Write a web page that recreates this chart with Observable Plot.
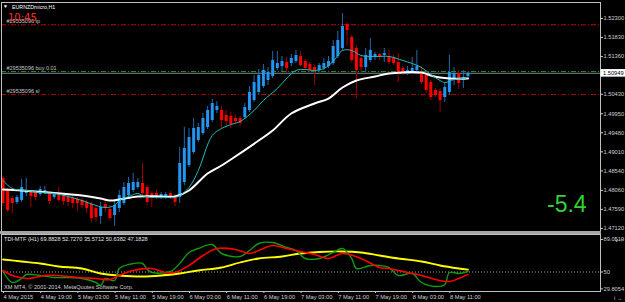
<!DOCTYPE html>
<html><head><meta charset="utf-8">
<script src="https://cdn.jsdelivr.net/npm/d3@7"></script>
<script src="https://cdn.jsdelivr.net/npm/@observablehq/plot@0.6"></script>
<style>
body{margin:0;background:#000;}
#c{position:relative;width:625px;height:302px;background:#000;overflow:hidden;font-family:"Liberation Sans",Arial,sans-serif;}
#c > *{position:absolute;left:0;}
</style></head><body><div id="c"></div>
<script>
// ---- data: EURNZDmicro H1, 4 May 11:00 .. 8 May 15:00 (one bar per hour) ----
const open=[1.48353,1.48057,1.47859,1.47761,1.47810,1.47983,1.48007,1.47983,1.47958,1.48032,
1.47983,1.47884,1.47933,1.47933,1.47884,1.47859,1.47835,1.47810,1.47761,1.47711,
1.47613,1.47415,1.47711,1.47588,1.47440,1.47613,1.47736,1.47933,1.48057,1.48131,
1.48230,1.48131,1.47983,1.47983,1.47884,1.47884,1.47983,1.47909,1.47884,1.48254,
1.48673,1.48994,1.49290,1.49463,1.49611,1.49784,1.50030,1.50030,1.49907,1.49882,
1.49833,1.49833,1.49858,1.50030,1.50277,1.50474,1.50622,1.50770,1.50869,1.51066,
1.51116,1.51215,1.51190,1.51239,1.51363,1.51239,1.51165,1.51091,1.51017,1.51066,
1.51116,1.51190,1.51363,1.51560,1.52152,1.51831,1.51560,1.51313,1.51091,1.51264,
1.51338,1.51412,1.51387,1.51363,1.51338,1.51215,1.51066,1.50968,1.50968,1.51017,
1.50968,1.50894,1.50721,1.50524,1.50499,1.50351,1.50474,1.50770,1.50943,1.50770,
1.50869];
const high=[1.48402,1.48106,1.47909,1.47933,1.48328,1.48353,1.48057,1.48032,1.48155,1.48155,
1.48007,1.48007,1.48131,1.47983,1.47933,1.47909,1.47884,1.47859,1.47810,1.47761,
1.47662,1.47761,1.47835,1.47687,1.47810,1.48057,1.48254,1.48377,1.48476,1.48353,
1.48723,1.48180,1.48032,1.48057,1.48007,1.48007,1.48032,1.47958,1.49117,1.49611,
1.49586,1.49833,1.49710,1.49956,1.50129,1.50302,1.50252,1.50129,1.50030,1.49981,
1.49907,1.49882,1.50203,1.50622,1.50894,1.51042,1.51165,1.51091,1.51486,1.51486,
1.51363,1.51338,1.51412,1.51511,1.51486,1.51289,1.51215,1.51141,1.51190,1.51313,
1.51363,1.51757,1.51979,1.52423,1.52201,1.51881,1.51634,1.51387,1.51560,1.51807,
1.51461,1.51437,1.51560,1.51511,1.51387,1.51437,1.51116,1.51116,1.51338,1.51511,
1.51116,1.50968,1.50770,1.50573,1.50573,1.50696,1.51387,1.51091,1.51017,1.51017,
1.50968];
const low=[1.47662,1.47514,1.47489,1.47711,1.47761,1.47909,1.47637,1.47810,1.47909,1.47958,
1.47711,1.47835,1.47761,1.47687,1.47662,1.47613,1.47538,1.47613,1.47489,1.47267,
1.47267,1.47218,1.47514,1.47317,1.47169,1.47514,1.47687,1.47884,1.48007,1.48081,
1.47884,1.47687,1.47637,1.47835,1.47835,1.47835,1.47835,1.47662,1.47736,1.48180,
1.48624,1.48945,1.49241,1.49414,1.49562,1.49734,1.49956,1.49586,1.49611,1.49586,
1.49685,1.49636,1.49808,1.49981,1.50228,1.50400,1.50573,1.50647,1.50820,1.51017,
1.50992,1.50968,1.51116,1.51190,1.51091,1.51017,1.50943,1.50647,1.50968,1.51017,
1.51066,1.51141,1.51313,1.51511,1.51609,1.51215,1.50326,1.50968,1.50968,1.51215,
1.51264,1.51264,1.51215,1.51165,1.51141,1.50721,1.50894,1.50894,1.50918,1.50968,
1.50672,1.50450,1.50277,1.50351,1.49981,1.50228,1.50400,1.50647,1.50548,1.50573,
1.50844];
const close=[1.47736,1.47563,1.47736,1.47884,1.48131,1.48057,1.47909,1.47884,1.48081,1.48057,
1.47785,1.47958,1.47810,1.47785,1.47761,1.47736,1.47736,1.47687,1.47613,1.47366,
1.47390,1.47637,1.47613,1.47366,1.47687,1.47933,1.48131,1.48230,1.48254,1.48254,
1.47983,1.47761,1.47859,1.47884,1.47958,1.47958,1.47884,1.47761,1.48723,1.49093,
1.49364,1.49586,1.49611,1.49833,1.50030,1.50203,1.50129,1.49784,1.49759,1.49685,
1.49759,1.49710,1.50104,1.50474,1.50721,1.50894,1.51017,1.50968,1.51264,1.51190,
1.51239,1.51066,1.51313,1.51387,1.51141,1.51066,1.51017,1.50992,1.51141,1.51190,
1.51239,1.51609,1.51757,1.52103,1.52004,1.51264,1.51017,1.51091,1.51387,1.51511,
1.51412,1.51338,1.51437,1.51215,1.51190,1.50943,1.50943,1.51017,1.51066,1.51116,
1.50721,1.50524,1.50351,1.50400,1.50277,1.50598,1.50968,1.50943,1.50696,1.50844,
1.50949];

// moving averages (bar index, price)
const fastMaIdx=[0,2,5,8,11,14,17,20,22,24,25,27,29,30,32,35,37,38,40,42,45,47,49,51,54,56,59,61,63,65,67,69,71,73,75,77,80,83,86,88,90,92,94,95,97,99,100];
const fastMaVal=[1.48303,1.48106,1.48057,1.48007,1.47983,1.47909,1.47810,1.47687,1.47637,1.47687,1.47810,1.47909,1.47983,1.47933,1.47884,1.47884,1.47884,1.47933,1.48131,1.48550,1.49414,1.49586,1.49685,1.49759,1.50030,1.50277,1.50573,1.50820,1.51017,1.51042,1.51017,1.51066,1.51239,1.51511,1.51511,1.51387,1.51363,1.51363,1.51264,1.51190,1.51091,1.50918,1.50770,1.50721,1.50795,1.50820,1.50844];
const slowMaIdx=[0,4,10,17,21,23,25,29,34,37,40,44,47,49,55,58,62,67,70,73,76,80,83,90,92,94,96,100];
const slowMaVal=[1.48081,1.48057,1.48007,1.47933,1.47859,1.47810,1.47835,1.47909,1.47909,1.47909,1.48057,1.48476,1.48673,1.48822,1.49290,1.49537,1.49956,1.50203,1.50326,1.50598,1.50770,1.50869,1.50943,1.50968,1.50894,1.50844,1.50820,1.50820];

// order levels
const tpLevel=1.52145, buyLevel=1.50992, slLevel=1.50425, bid=1.50949;
const orderLevels=[tpLevel,buyLevel,slLevel];
const orderTexts=["#29535096 tp","#29535096 buy 0.01","#29535096 sl"];

// price axis
const priceTicks=[1.52300,1.51830,1.51360,1.50430,1.49950,1.49480,1.49010,1.48540,1.48060,1.47590,1.47120];

// TDI-MTF indicator (bar index, value)
const yellowIdx=[0,4,8,12,17,21,25,30,34,38,42,47,51,55,60,64,68,73,77,81,85,90,94,98,100];
const yellowVal=[65.0,62.6,60.2,56.6,54.2,48.2,45.8,44.6,45.8,48.2,51.8,55.4,61.4,66.2,68.6,72.2,74.0,74.6,73.4,69.8,66.2,62.6,57.8,54.2,52.727];
const redIdx=[0,2,5,9,12,16,20,23,25,28,32,35,37,40,43,46,50,53,55,58,61,64,67,70,73,77,81,83,87,90,93,96,98,100];
const redVal=[51.8,45.8,42.2,45.8,45.8,43.4,42.2,41.0,45.8,51.8,54.2,49.4,49.4,57.8,69.8,78.2,77.0,72.2,75.8,81.8,78.2,74.5,71.0,66.2,72.2,66.2,55.4,54.2,49.4,45.8,41.0,38.6,42.2,47.1828];
const greenIdx=[0,2,4,5,8,11,14,17,20,21,22,24,25,27,30,31,32,36,38,40,42,45,47,51,53,55,58,61,63,65,68,71,73,75,76,79,81,83,85,88,90,93,95,96,98,100];
const greenVal=[50.6,37.4,42.2,47.0,45.8,43.4,43.4,42.2,37.4,33.8,42.2,39.8,54.2,59.0,60.2,53.0,49.4,50.6,60.2,73.4,78.2,83.0,72.2,68.6,75.8,84.2,85.4,79.4,75.8,66.2,66.2,73.4,78.2,66.2,54.2,57.8,57.8,55.4,45.8,48.2,37.4,32.6,35.0,49.4,48.2,50.6382];
const tdiTicks=[29.8054,50,89.0519];
const tdiTickLabels=["29.8054","50","89.0519"];
const tdiTitle="TDI-MTF (H1) 69.8828 52.7270 35.5712 50.6382 47.1828";

// time axis
const timeTickIdx=[0,8,16,24,32,40,48,56,64,72,80,88,96];
const timeLabels=["4 May 2015","4 May 19:00","5 May 03:00","5 May 11:00","5 May 19:00","6 May 03:00","6 May 11:00","6 May 19:00","7 May 03:00","7 May 11:00","7 May 19:00","8 May 03:00","8 May 11:00"];

// ---- build ----
const FONT="Liberation Sans";
const bars=open.map((o,i)=>({i,o,h:high[i],l:low[i],c:close[i],up:close[i]>=o}));
const pts=(idx,val)=>idx.map((i,k)=>({i,v:val[k]}));
const xDomain=[-0.3226,128.4946];

const main=Plot.plot({
  width:625,height:231,marginLeft:1,marginRight:25,marginTop:2,marginBottom:0,
  x:{domain:xDomain,axis:null},
  y:{domain:[1.47045,1.52695],axis:null},
  color:{type:"identity"},
  style:{background:"transparent",fontFamily:FONT,fontSize:"5.7px",color:"#d0d0d0",overflow:"visible"},
  marks:[
    Plot.ruleY([bid],{stroke:"#7d8a97",strokeWidth:1}),
    Plot.ruleY([tpLevel],{stroke:"#c00000",strokeDasharray:"5,2,1,2"}),
    Plot.ruleY([buyLevel],{stroke:"#1f8f1f",strokeDasharray:"5,2,1,2"}),
    Plot.ruleY([slLevel],{stroke:"#a80000",strokeDasharray:"5,2,1,2"}),
    Plot.ruleX(bars,{x:"i",y1:"l",y2:"h",stroke:d=>d.up?"#2468aa":"#a00000",strokeWidth:1}),
    Plot.ruleX(bars,{x:"i",y1:"o",y2:"c",stroke:d=>d.up?"#2196f3":"#ff0000",strokeWidth:3}),
    Plot.line(pts(slowMaIdx,slowMaVal),{x:"i",y:"v",stroke:"#ffffff",strokeWidth:2,curve:"catmull-rom",clip:true}),
    Plot.line(pts(fastMaIdx,fastMaVal),{x:"i",y:"v",stroke:"#22bcbc",strokeWidth:1,curve:"catmull-rom",clip:true}),
    Plot.text(orderLevels,{y:d=>d,text:(d,i)=>orderTexts[i],frameAnchor:"left",dx:5,dy:-1.5,lineAnchor:"bottom",textAnchor:"start",fill:"#c8c8c8",fontSize:5.5}),
    Plot.axisY(priceTicks,{anchor:"right",tickSize:2,tickPadding:1,fontSize:5.7,tickFormat:d=>d.toFixed(5),color:"#d0d0d0"}),
    Plot.frame({stroke:"#c0c0c0"})
  ]
});

const ind=Plot.plot({
  width:625,height:68,marginLeft:1,marginRight:25,marginTop:0,marginBottom:11,
  x:{domain:xDomain,axis:null},
  y:{domain:[26.6,95],axis:null},
  style:{background:"transparent",fontFamily:FONT,fontSize:"5.7px",color:"#d0d0d0",overflow:"visible"},
  marks:[
    Plot.ruleY([50],{stroke:"#a0a0a0",strokeDasharray:"1,2"}),
    Plot.line(pts(yellowIdx,yellowVal),{x:"i",y:"v",stroke:"#ffff00",strokeWidth:1.8,curve:"catmull-rom",clip:true}),
    Plot.line(pts(greenIdx,greenVal),{x:"i",y:"v",stroke:"#129a12",strokeWidth:1.4,curve:"catmull-rom",clip:true}),
    Plot.line(pts(redIdx,redVal),{x:"i",y:"v",stroke:"#ff0000",strokeWidth:1.6,curve:"catmull-rom",clip:true}),
    Plot.axisY(tdiTicks,{anchor:"right",tickSize:2,tickPadding:1,fontSize:5.7,tickFormat:d=>tdiTickLabels[tdiTicks.indexOf(d)],color:"#d0d0d0"}),
    Plot.axisX(timeTickIdx,{anchor:"bottom",tickSize:2,tickPadding:1,fontSize:5.7,textAnchor:"start",dx:0.5,tickFormat:d=>timeLabels[timeTickIdx.indexOf(d)],color:"#d0d0d0"}),
    Plot.frame({stroke:"#c0c0c0"})
  ]
});

const c=document.getElementById("c");
main.style.top="0px";
c.appendChild(main);
const sep=document.createElement("div");
sep.style.cssText="top:231px;width:601px;height:3px;background:#a4a4a4;";
c.appendChild(sep);
ind.style.top="234px";
c.appendChild(ind);

// overlay texts
const ov=d3.create("svg").attr("width",625).attr("height",302).style("top","0px").style("pointer-events","none")
  .attr("font-family",FONT);
ov.append("text").attr("x",3).attr("y",8).attr("font-size",5).attr("fill","#ffffff").text("▼");
ov.append("text").attr("x",12).attr("y",8.5).attr("font-size",5.3).attr("fill","#ffffff").text("EURNZDmicro,H1");
ov.append("text").attr("x",8).attr("y",21).attr("font-size",10).attr("font-family","DejaVu Sans").attr("fill","#ff2828").text("10:45");
ov.append("text").attr("x",547).attr("y",211.5).attr("font-size",23).attr("fill","#35d035").text("-5.4");
ov.append("text").attr("x",4).attr("y",240.5).attr("font-size",5.6).attr("fill","#e6e6e6").text(tdiTitle);
ov.append("text").attr("x",4).attr("y",289).attr("font-size",5.6).attr("fill","#d0d0d0").text("XM MT4, © 2001-2014, MetaQuotes Software Corp.");
const yb=main.scale("y").apply(bid);
ov.append("rect").attr("x",600.5).attr("y",yb-3.7).attr("width",24.5).attr("height",7.6).attr("fill","#ffffff");
ov.append("text").attr("x",603).attr("y",yb+2).attr("font-size",5.7).attr("fill","#000000").text(bid.toFixed(5));
c.appendChild(ov.node());
</script>
</body></html>
